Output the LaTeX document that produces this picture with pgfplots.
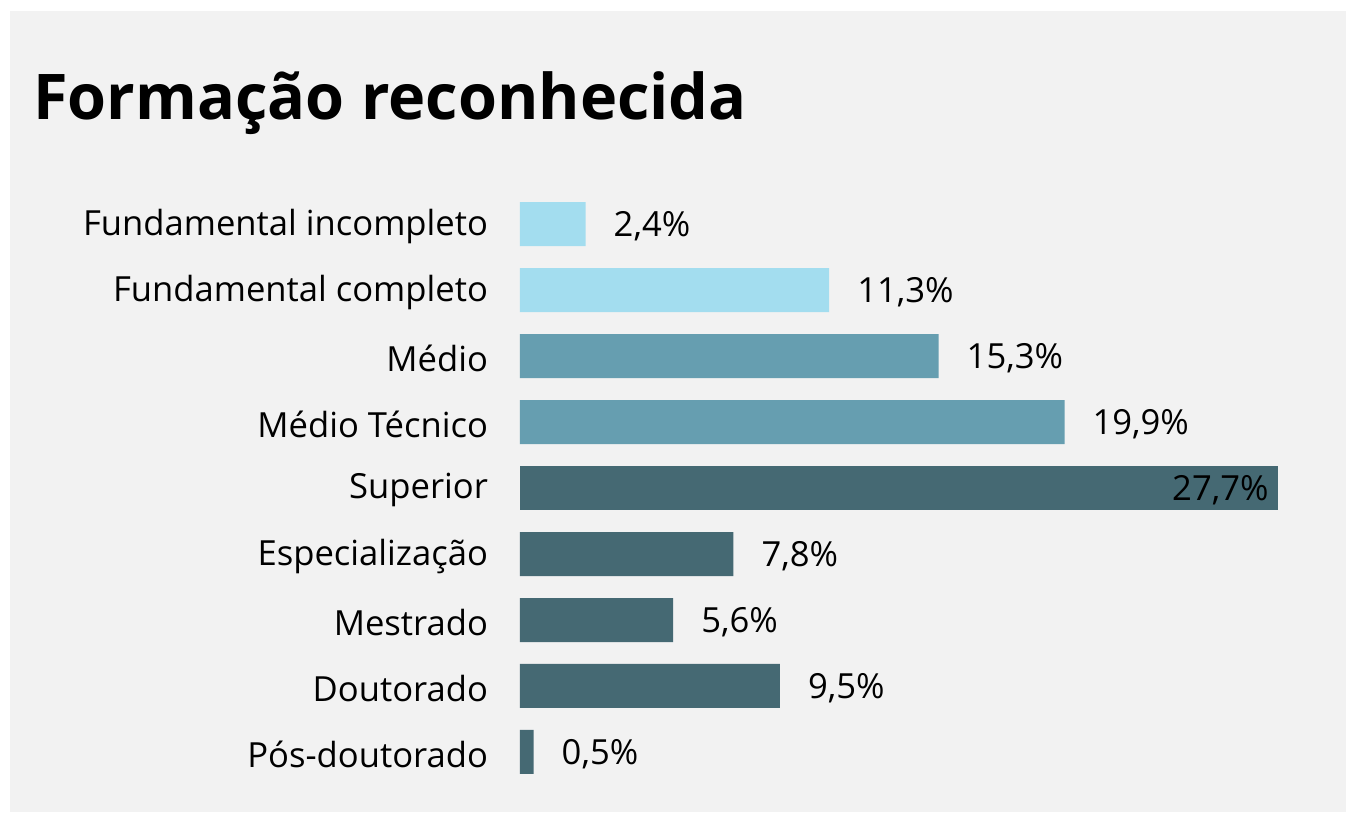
\documentclass[border=0pt]{standalone}
\usepackage{pgfplots}
\pgfplotsset{compat=1.18}
\usepackage{fontspec}
\setmainfont{Open Sans}
\definecolor{lightb}{HTML}{A3DDEF}
\definecolor{midb}{HTML}{669EB0}
\definecolor{darkb}{HTML}{456973}
\definecolor{panel}{HTML}{F2F2F2}
\begin{document}
\begin{tikzpicture}
\useasboundingbox (0pt,0pt) rectangle (673pt,407pt);
\fill[white] (0pt,0pt) rectangle (673pt,407pt);
\fill[panel] (5pt,1pt) rectangle (673pt,401.5pt);
\node[anchor=base west, font=\bfseries\fontsize{31.5}{36}\selectfont, inner sep=0] at (16.5pt,347pt) {Formação reconhecida};
\begin{axis}[
  at={(260pt,14.5pt)}, anchor=south west,
  scale only axis, width=379pt, height=297pt,
  xmin=0, xmax=27.7,
  ymin=-0.5, ymax=8.5,
  xbar, bar width=22pt, bar shift=0pt,
  axis line style={draw=none}, major tick length=0pt,
  xtick=\empty,
  ytick={0,1,2,3,4,5,6,7,8},
  yticklabels={Pós-doutorado, Doutorado, Mestrado, Especialização, Superior, Médio Técnico, Médio, Fundamental completo, Fundamental incompleto},
  yticklabel style={font=\fontsize{17.3}{20}\selectfont, xshift=-12.5pt, yshift=-1.2pt},
  nodes near coords,
  point meta=x,
  every node near coord/.append style={font=\fontsize{17.3}{20}\selectfont, anchor=west, xshift=10.5pt, yshift=-1pt,
    /pgf/number format/assume math mode=true, /pgf/number format/use comma, /pgf/number format/fixed, /pgf/number format/fixed zerofill, /pgf/number format/precision=1},
  nodes near coords={\pgfmathprintnumber{\pgfplotspointmeta}\%},
  clip=false,
]
\addplot[fill=lightb, draw=none] coordinates {(2.4,8) (11.3,7)};
\addplot[fill=midb, draw=none] coordinates {(15.3,6) (19.9,5)};
\addplot[fill=darkb, draw=none, every node near coord/.append style={anchor=east, xshift=-11.7pt}] coordinates {(27.7,4)};
\addplot[fill=darkb, draw=none] coordinates {(7.8,3) (5.6,2) (9.5,1) (0.5,0)};
\end{axis}
\end{tikzpicture}
\end{document}
